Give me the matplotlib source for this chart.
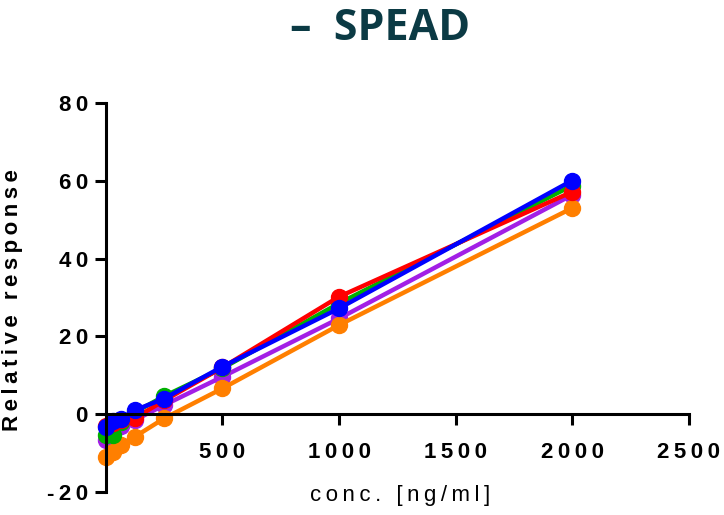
import matplotlib.pyplot as plt

# concentrations (ng/ml) and relative response of each run
conc = [0, 31.25, 62.5, 125, 250, 500, 1000, 2000]
purple = [-6.7, -5.0, -3.0, -1.5, 2.3, 9.6, 24.6, 56.4]
orange = [-11.0, -9.8, -8.0, -5.8, -1.1, 6.6, 22.9, 53.0]
green = [-5.4, -5.4, -2.0, 0.5, 4.6, 11.8, 28.5, 58.8]
red = [-3.0, -2.4, -1.5, -1.0, 3.5, 12.0, 30.2, 57.2]
blue = [-3.4, -1.8, -1.4, 1.0, 4.0, 12.2, 27.2, 60.1]

series = [(purple, '#a21fe6'), (orange, '#ff7f00'), (green, '#00b000'),
          (red, '#ff0000'), (blue, '#0000ff')]

xticks = [500, 1000, 1500, 2000, 2500]
yticks = [-20, 0, 20, 40, 60, 80]


def spaced(s):
    # Prism-style letter spacing with thin spaces
    return '\u2009'.join(s)


plt.rcParams['font.family'] = ['Liberation Sans', 'DejaVu Sans']

fig = plt.figure(figsize=(7.24, 5.15), dpi=100)
ax = fig.add_axes([0.1464, 0.0452, 0.8046, 0.7542])

for vals, col in series:
    ax.plot(conc, vals, color=col, lw=3.2, marker='o', ms=11.5,
            clip_on=False, solid_capstyle='butt')

ax.set_xlim(0, 2500)
ax.set_ylim(-20, 80)

for s in ['top', 'right']:
    ax.spines[s].set_visible(False)
ax.spines['bottom'].set_position(('data', 0))
ax.spines['bottom'].set_linewidth(2.2)
ax.spines['left'].set_linewidth(2.2)

ax.set_xticks(xticks)
ax.set_xticklabels([spaced(str(t)) for t in xticks], fontsize=16,
                   fontweight='bold')
ax.set_yticks(yticks)
ax.set_yticklabels([spaced(str(t)) for t in yticks], fontsize=16,
                   fontweight='bold')
ax.tick_params(axis='x', length=8, width=2.2, pad=12)
ax.tick_params(axis='y', length=8, width=2.2, pad=5)

ax.text(0.505, -0.01, spaced('conc. [ng/ml]'), transform=ax.transAxes,
        ha='center', va='center', fontsize=16)
ax.set_ylabel(spaced('Relative response'), fontsize=16, fontweight='bold')
ax.yaxis.set_label_coords(-0.1425, 0.494)

fig.text(0.525, 0.945, '–  SPEAD', ha='center', va='center', fontsize=31,
         fontweight='bold', color='#0b3a44', family='Open Sans')

fig.savefig('out.png', dpi=100)
